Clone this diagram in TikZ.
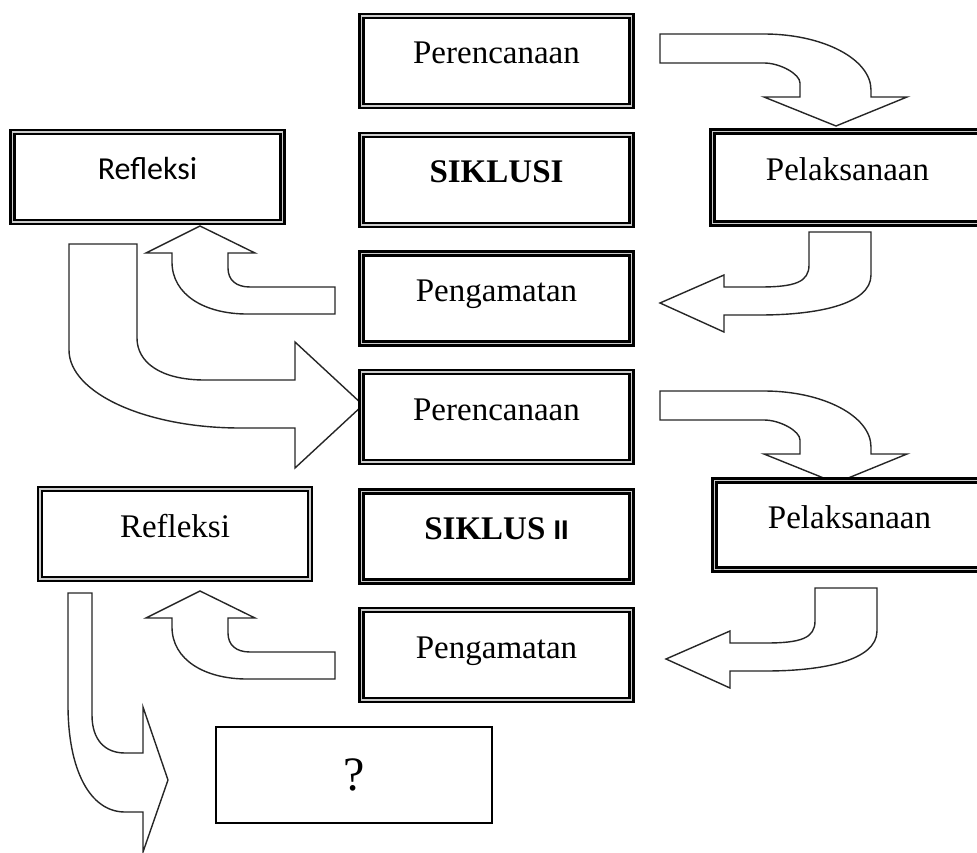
\documentclass[tikz,border=0pt]{standalone}
\usepackage{fontspec}
\setmainfont{Liberation Serif}
\setsansfont{Liberation Sans}
\newfontfamily\carlito{Carlito}

\begin{document}
\begin{tikzpicture}[x=1pt,y=-1pt,
  stage/.style={draw=black,line width=2.4pt,double=black!20,double distance=1.8pt,
    minimum width=270pt,minimum height=90pt,inner sep=0pt,
    text height=26pt,text depth=20pt,font=\fontsize{33}{38}\selectfont},
  endbox/.style={draw=black,line width=2pt,minimum width=276pt,minimum height=96pt,
    inner sep=0pt,font=\fontsize{48}{52}\selectfont},
  bent/.style={draw=black!85,line width=1.4pt,fill=white,line join=miter}]

\useasboundingbox (0,0) rectangle (977,853);

\draw[bent] (660,34) -- (764,34) .. controls (823,34) and (871,59) .. (871,90) -- (871,97) -- (907,97) -- (836,126) -- (764,97) -- (800,97) -- (800,83) .. controls (800,74) and (780,63) .. (764,63) -- (660,63) -- cycle ;

\draw[bent] (809,232) -- (871,232) -- (871,275) .. controls (871,305) and (815,315) .. (760,315) -- (724,315) -- (724,332) -- (660,303) -- (724,275) -- (724,287) -- (760,287) .. controls (795,287) and (809,282) .. (809,265) -- cycle ;

\draw[bent] (335,287) -- (250,287) .. controls (236,287) and (228,280) .. (228,268) -- (228,253) -- (255,253) -- (200,226) -- (146,253) -- (172,253) -- (172,262) .. controls (172,295) and (205,314) .. (247,314) -- (335,314) -- cycle ;

\draw[bent] (69,244) -- (137,244) -- (137,338) .. controls (137,362) and (160,380) .. (205,380) -- (295,380) -- (295,342) -- (363,405) -- (295,468) -- (295,428) -- (240,428) .. controls (146,428) and (69,393) .. (69,350) -- cycle ;

\begin{scope}[yshift=-357pt]
\draw[bent] (660,34) -- (764,34) .. controls (823,34) and (871,59) .. (871,90) -- (871,97) -- (907,97) -- (836,126) -- (764,97) -- (800,97) -- (800,83) .. controls (800,74) and (780,63) .. (764,63) -- (660,63) -- cycle ;
\end{scope}

\begin{scope}[xshift=6pt,yshift=-356pt]
\draw[bent] (809,232) -- (871,232) -- (871,275) .. controls (871,305) and (815,315) .. (760,315) -- (724,315) -- (724,332) -- (660,303) -- (724,275) -- (724,287) -- (760,287) .. controls (795,287) and (809,282) .. (809,265) -- cycle ;
\end{scope}

\begin{scope}[yshift=-365pt]
\draw[bent] (335,287) -- (250,287) .. controls (236,287) and (228,280) .. (228,268) -- (228,253) -- (255,253) -- (200,226) -- (146,253) -- (172,253) -- (172,262) .. controls (172,295) and (205,314) .. (247,314) -- (335,314) -- cycle ;
\end{scope}

\draw[bent] (68,593) -- (92,593) -- (92,715) .. controls (92,740) and (105,753) .. (125,753) -- (143,753) -- (143,707) -- (168,780) -- (143,852) -- (143,812) -- (125,812) .. controls (90,812) and (68,770) .. (68,705) -- cycle ;

\node[stage] (plan1) at (496.5,61) {Perencanaan} ;
\node[stage] (cycle1) at (496.5,180) {\textbf{SIKLUSI}} ;
\node[stage] (watch1) at (496.5,298.5) {Pengamatan} ;
\node[stage,font=\carlito\fontsize{32}{38}\selectfont] (reflect1) at (147.5,177) {Refleksi} ;
\node[stage,minimum height=92pt] (act1) at (847.5,177.5) {Pelaksanaan} ;

\node[stage] (plan2) at (496.5,417) {Perencanaan} ;
\node[stage] (cycle2) at (496.5,536.5) {\textbf{SIKLUS} {\sffamily\bfseries\fontsize{27}{30}\selectfont II}} ;
\node[stage] (watch2) at (496.5,655) {Pengamatan} ;
\node[stage] (reflect2) at (175,534) {Refleksi} ;
\node[stage,minimum height=89pt] (act2) at (849.5,525) {Pelaksanaan} ;

\node[endbox] (next) at (354,775) {?} ;

\end{tikzpicture}
\end{document}
